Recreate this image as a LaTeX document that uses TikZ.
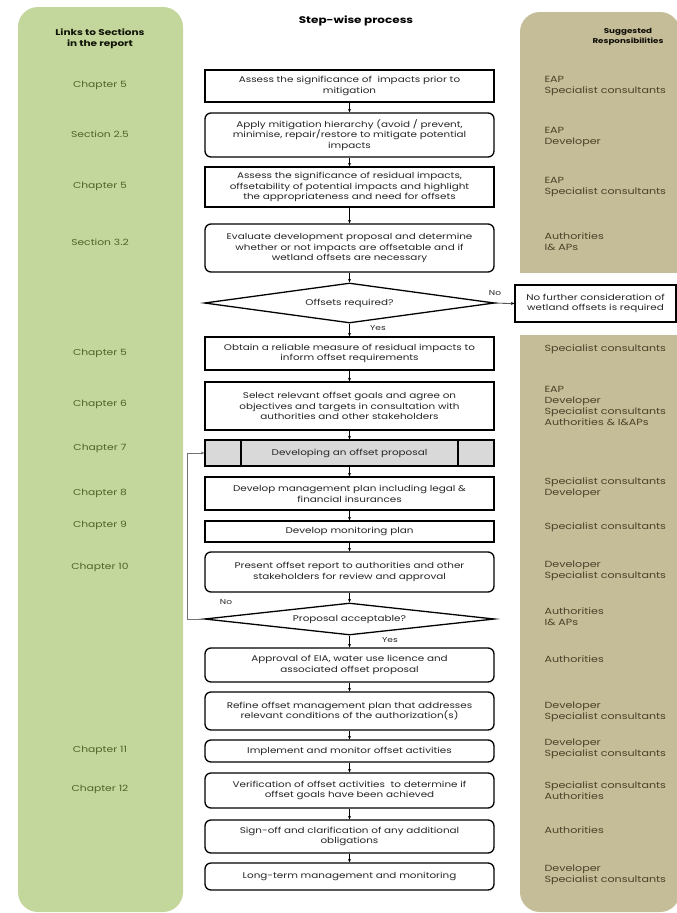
\documentclass[tikz,border=0pt]{standalone}
\usepackage{fontspec}
\setmainfont{Poppins}[FakeStretch=1.25]
\usetikzlibrary{shapes.geometric,arrows.meta}
\definecolor{panelgreen}{HTML}{C3D69B}
\definecolor{paneltan}{HTML}{C4BD97}
\definecolor{greentext}{HTML}{4F6228}
\definecolor{tantext}{HTML}{4A4229}
\definecolor{procgray}{HTML}{D9D9D9}
\begin{document}
\begin{tikzpicture}[x=1pt,y=-1pt,
  txt/.style={font=\fontsize{8.3}{10.8}\selectfont, align=center, text=black!85},
  stepbox/.style={txt, draw=black, line width=1.3pt, fill=white, minimum width=289pt, inner sep=0pt},
  roundbox/.style={stepbox, rounded corners=6pt},
  decision/.style={txt, diamond, draw=black, line width=1.3pt, fill=white, inner sep=0pt, minimum width=290pt},
  chap/.style={font=\fontsize{8.6}{10}\selectfont, text=greentext, align=center},
  resp/.style={font=\fontsize{8.9}{11}\selectfont, text=tantext, align=left, anchor=west},
  head/.style={font=\bfseries\fontsize{8.4}{11}\selectfont, align=center},
  flow/.style={line width=0.6pt, -{Stealth[length=3.5pt,width=3pt]}},
  lbl/.style={font=\fontsize{7.2}{8}\selectfont, text=black!85}
]
\useasboundingbox (0,0) rectangle (677,913);
\fill[white] (0,0) rectangle (677,913);

% side panels
\fill[panelgreen] (18,7) [rounded corners=20pt] rectangle (183,912);
\fill[paneltan] (520,12) [rounded corners=20pt] rectangle (680,912);
\fill[white] (514,273) rectangle (677,335);

% column headings
\node[head, text=black!80!greentext] (hleft) at (100,39) {Links to Sections\\in the report};
\node[head, font=\bfseries\fontsize{9.6}{11}\selectfont] (hmid) at (356,21) {Step-wise process};
\node[head, font=\bfseries\fontsize{7}{10}\selectfont, text=black!80!tantext] (hright) at (628,37) {Suggested\\Responsibilities};

% process steps
\node[stepbox, minimum height=32pt] (b1) at (349.5,86) {Assess the significance of \ impacts prior to\\mitigation};
\node[roundbox, minimum height=44pt] (b2) at (349.5,135) {Apply mitigation hierarchy (avoid / prevent,\\minimise, repair/restore to mitigate potential\\impacts};
\node[stepbox, minimum height=40pt] (b3) at (349.5,187) {Assess the significance of residual impacts,\\offsetability of potential impacts and highlight\\the appropriateness and need for offsets};
\node[roundbox, minimum height=48pt] (b4) at (349.5,248) {Evaluate development proposal and determine\\whether or not impacts are offsetable and if\\wetland offsets are necessary};
\node[decision, aspect=7.25, minimum height=40pt] (d1) at (349.5,303) {Offsets required?};
\node[stepbox, minimum height=33pt] (b5) at (349.5,353.5) {Obtain a reliable measure of residual impacts to\\inform offset requirements};
\node[stepbox, minimum height=48pt] (b6) at (349.5,406) {Select relevant offset goals and agree on\\objectives and targets in consultation with\\authorities and other stakeholders};
\node[stepbox, fill=procgray, minimum height=26pt] (b7) at (349.5,453) {Developing an offset proposal};
\draw[line width=1.3pt] (241,440) -- (241,466) (458,440) -- (458,466);
\node[stepbox, minimum height=33pt] (b8) at (349.5,493.5) {Develop management plan including legal \&\\financial insurances};
\node[stepbox, minimum height=21pt] (b9) at (349.5,531.5) {Develop monitoring plan};
\node[roundbox, minimum height=40pt] (b10) at (349.5,572) {Present offset report to authorities and other\\stakeholders for review and approval};
\node[decision, aspect=9, minimum height=32pt] (d2) at (349.5,619) {Proposal acceptable?};
\node[roundbox, minimum height=34pt] (b11) at (349.5,665) {Approval of EIA, water use licence and\\associated offset proposal};
\node[roundbox, minimum height=38pt] (b12) at (349.5,711) {Refine offset management plan that addresses\\relevant conditions of the authorization(s)};
\node[roundbox, minimum height=22pt] (b13) at (349.5,751) {Implement and monitor offset activities};
\node[roundbox, minimum height=35pt] (b14) at (349.5,790.5) {Verification of offset activities \ to determine if\\offset goals have been achieved};
\node[roundbox, minimum height=33pt] (b15) at (349.5,836.5) {Sign-off and clarification of any additional\\obligations};
\node[roundbox, minimum height=27pt] (b16) at (349.5,876.5) {Long-term management and monitoring};

\node[stepbox, minimum width=161pt, minimum height=37pt] (nofurther) at (595.5,303.5) {No further consideration of\\wetland offsets is required};

% connectors
\foreach \a/\b in {b1/b2,b2/b3,b3/b4,b4/d1,d1/b5,b5/b6,b6/b7,b7/b8,b8/b9,b9/b10,b10/d2,d2/b11,b11/b12,b12/b13,b13/b14,b14/b15,b15/b16}
  \draw[flow] (\a.south) -- (\b.north);
\draw[flow] (d1.east) -- (nofurther.west);
\coordinate (loopc) at (187,619);
\draw[flow, draw=black!55] (d2.west) -- (loopc) |- (b7.west);
\node[lbl] (no1) at (495,293) {No};
\node[lbl] (yes1) at (378,328) {Yes};
\node[lbl] (no2) at (226,602) {No};
\node[lbl] (yes2) at (390,640) {Yes};

% report sections
\node[chap] (c1) at (100,85) {Chapter 5};
\node[chap] (c2) at (100,134) {Section 2.5};
\node[chap] (c3) at (100,186) {Chapter 5};
\node[chap] (c4) at (100,242) {Section 3.2};
\node[chap] (c5) at (100,353) {Chapter 5};
\node[chap] (c6) at (100,404) {Chapter 6};
\node[chap] (c7) at (100,448) {Chapter 7};
\node[chap] (c8) at (100,493) {Chapter 8};
\node[chap] (c9) at (100,525) {Chapter 9};
\node[chap] (c10) at (100,567) {Chapter 10};
\node[chap] (c11) at (100,750) {Chapter 11};
\node[chap] (c12) at (100,789) {Chapter 12};

% responsibilities
\node[resp] (r1) at (541,86) {EAP\\Specialist consultants};
\node[resp] (r2) at (541,137) {EAP\\Developer};
\node[resp] (r3) at (541,187) {EAP\\Specialist consultants};
\node[resp] (r4) at (541,242) {Authorities\\I\& APs};
\node[resp] (r5) at (541,349) {Specialist consultants};
\node[resp] (r6) at (541,406) {EAP\\Developer\\Specialist consultants\\Authorities \& I\&APs};
\node[resp] (r7) at (541,488) {Specialist consultants\\Developer};
\node[resp] (r8) at (541,527) {Specialist consultants};
\node[resp] (r9) at (541,571) {Developer\\Specialist consultants};
\node[resp] (r10) at (541,617) {Authorities\\I\& APs};
\node[resp] (r11) at (541,659) {Authorities};
\node[resp] (r12) at (541,712) {Developer\\Specialist consultants};
\node[resp] (r13) at (541,749) {Developer\\Specialist consultants};
\node[resp] (r14) at (541,791) {Specialist consultants\\Authorities};
\node[resp] (r15) at (541,830) {Authorities};
\node[resp] (r16) at (541,875) {Developer\\Specialist consultants};
\end{tikzpicture}
\end{document}
